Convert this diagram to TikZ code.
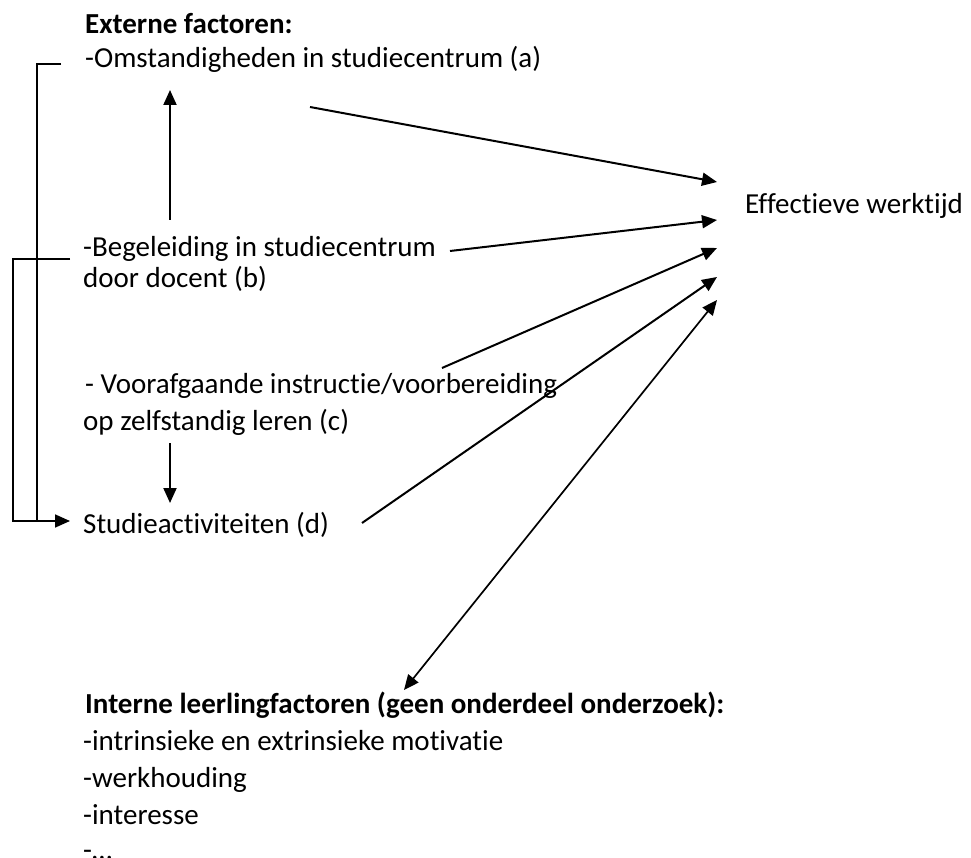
\documentclass[tikz,border=0pt]{standalone}
\usepackage{fontspec}
\setmainfont{Carlito}[Ligatures={NoCommon,NoRare}]
\usetikzlibrary{arrows.meta}
\begin{document}
\begin{tikzpicture}[x=1pt,y=-1pt,
  txt/.style={anchor=base west,inner sep=0pt,font=\fontsize{29}{34}\selectfont},
  btxt/.style={txt,font=\fontsize{29}{34}\selectfont\bfseries},
  conn/.style={line width=2pt,-{Triangle[length=15pt,width=13pt]}},
  dconn/.style={line width=1.7pt,{Triangle[length=15pt,width=13pt]}-{Triangle[length=15pt,width=13pt]}},
  brack/.style={line width=1.7pt}]
\useasboundingbox (0,0) rectangle (971,858);
% texts
\node[btxt] (ext) at (85,34) {Externe factoren:};
\node[txt] (a) at (85,68) {-Omstandigheden in studiecentrum (a)};
\node[txt] (b1) at (83,257) {-Begeleiding in studiecentrum};
\node[txt] (b2) at (83,288) {door docent (b)};
\node[txt] (c1) at (85,393) {- Voorafgaande instructie/voorbereiding};
\node[txt] (c2) at (83,430) {op zelfstandig leren (c)};
\node[txt] (d) at (83,533) {Studieactiviteiten (d)};
\node[txt] (eff) at (745,214) {Effectieve werktijd};
\node[btxt] (int) at (85,713) {Interne leerlingfactoren (geen onderdeel onderzoek):};
\node[txt] (i1) at (83,750) {-intrinsieke en extrinsieke motivatie};
\node[txt] (i2) at (83,787) {-werkhouding};
\node[txt] (i3) at (83,824) {-interesse};
\node[txt] (i4) at (83,859) {-\dots};
% connector end points
\coordinate (ba) at (170,220);
\coordinate (at) at (170,90);
\coordinate (cb) at (170,443);
\coordinate (dt) at (170,503);
\coordinate (aout) at (310,107);
\coordinate (bout) at (450,251);
\coordinate (cout) at (442,368);
\coordinate (dout) at (362,523);
\coordinate (iout) at (404,690);
\coordinate (e1) at (717,182);
\coordinate (e2) at (717,220);
\coordinate (e3) at (717,248);
\coordinate (e4) at (717,277);
\coordinate (e5) at (717,300);
\coordinate (br1) at (61,64);
\coordinate (br1c) at (37,64);
\coordinate (br2) at (70,259);
\coordinate (br2c) at (13,259);
\coordinate (bj) at (13,521);
\coordinate (bj1) at (37,521);
\coordinate (dtip) at (70,521);
% connectors
\draw[conn] (ba) -- (at);
\draw[conn] (cb) -- (dt);
\draw[conn] (aout) -- (e1);
\draw[conn] (bout) -- (e2);
\draw[conn] (cout) -- (e3);
\draw[conn] (dout) -- (e4);
\draw[dconn] (iout) -- (e5);
\draw[brack] (br1) -- (br1c) -- (bj1);
\draw[brack,-{Triangle[length=15pt,width=13pt]}] (br2) -- (br2c) -- (bj) -- (dtip);
\end{tikzpicture}
\end{document}
